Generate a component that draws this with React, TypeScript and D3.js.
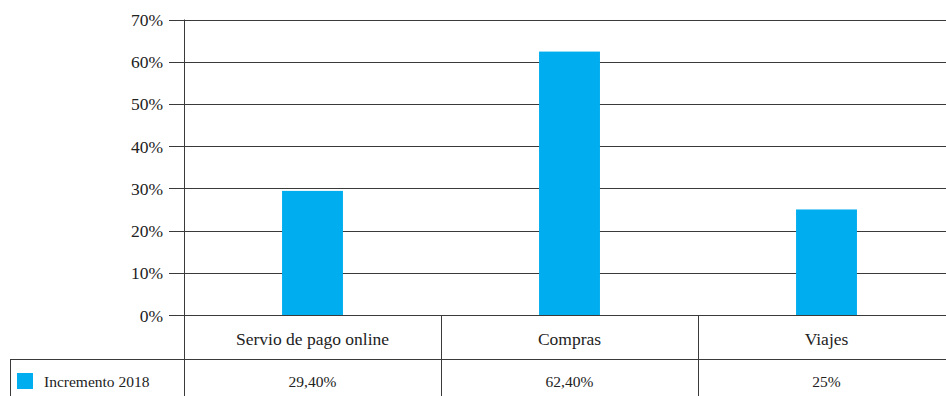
import React from "react";
import * as d3 from "d3";

const categories = ["Servio de pago online", "Compras", "Viajes"];
const values = [0.294, 0.624, 0.25];
const valueLabels = ["29,40%", "62,40%", "25%"];
const yTicks = [0, 0.1, 0.2, 0.3, 0.4, 0.5, 0.6, 0.7];
const seriesName = "Incremento 2018";

const W = 946;
const H = 396;
const FONT = '"Liberation Serif"';
const BAR = "#00AEEF";
const LINE = "#3a3a3a";

export default function App() {
  const x = d3.scaleBand<string>().domain(categories).range([184, 955]).paddingInner(0).paddingOuter(0);
  const y = d3.scaleLinear().domain([0, 0.7]).range([315, 19.5]);
  const bw = x.bandwidth() * 0.237;
  const fmt = d3.format(".0%");
  const tableTop = 359;
  const ts = { fontFamily: FONT };
  return (
    <svg width={W} height={H} style={{ position: "absolute", left: 0, top: 0 }}>
      <rect x={0} y={0} width={W} height={H} fill="#fff" />
      {yTicks.map((t) => (
        <g key={t}>
          <line x1={169} x2={955} y1={Math.round(y(t)) + 0.5} y2={Math.round(y(t)) + 0.5} stroke={LINE} strokeWidth={1} />
          <text x={163} y={y(t) + 6.5} textAnchor="end" fontSize={17.5} fill="#222" style={ts}>
            {fmt(t)}
          </text>
        </g>
      ))}
      {categories.map((c, i) => (
        <rect key={c} x={x(c)! + x.bandwidth() / 2 - bw / 2} y={y(values[i])} width={bw} height={y(0) - y(values[i])} fill={BAR} />
      ))}
      <line x1={184.5} x2={184.5} y1={y(0.7)} y2={H} stroke={LINE} strokeWidth={1} />
      <line x1={10} x2={955} y1={tableTop + 0.5} y2={tableTop + 0.5} stroke={LINE} strokeWidth={1} />
      <line x1={10.5} x2={10.5} y1={tableTop} y2={H} stroke={LINE} strokeWidth={1} />
      {categories.slice(1).map((c) => (
        <line key={c} x1={Math.round(x(c)!) + 0.5} x2={Math.round(x(c)!) + 0.5} y1={y(0)} y2={H} stroke={LINE} strokeWidth={1} />
      ))}
      {categories.map((c, i) => (
        <g key={c}>
          <text x={x(c)! + x.bandwidth() / 2} y={345} textAnchor="middle" fontSize={17.5} fill="#222" style={ts}>
            {c}
          </text>
          <text x={x(c)! + x.bandwidth() / 2} y={386.5} textAnchor="middle" fontSize={15.5} fill="#222" style={ts}>
            {valueLabels[i]}
          </text>
        </g>
      ))}
      <rect x={17} y={373} width={16} height={16} fill={BAR} />
      <text x={44} y={387} fontSize={15.5} fill="#222" style={ts}>
        {seriesName}
      </text>
    </svg>
  );
}
